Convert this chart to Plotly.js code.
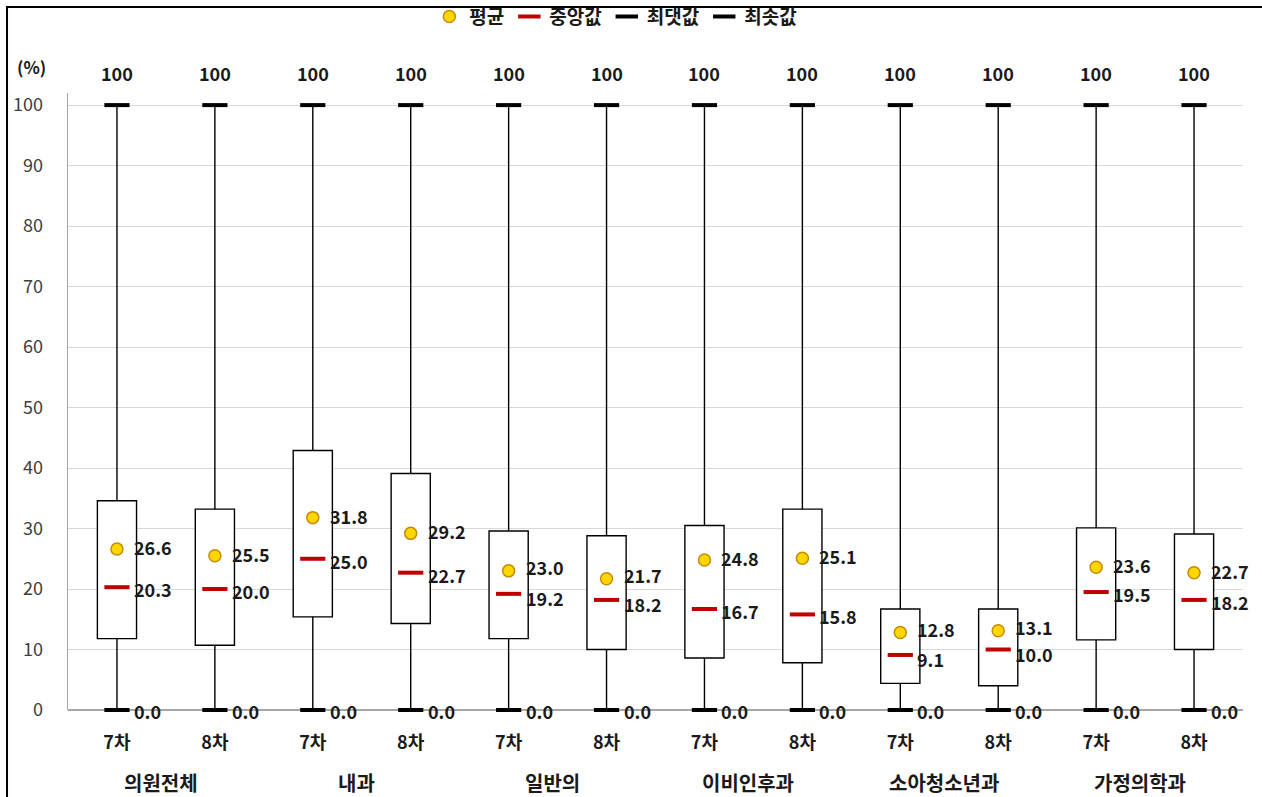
<!DOCTYPE html>
<html>
<head>
<meta charset="utf-8">
<script src="https://cdn.plot.ly/plotly-3.0.1.min.js"></script>
<style>
html,body{margin:0;padding:0;background:#fff;}
#chart{width:1262px;height:797px;}
</style>
</head>
<body>
<div id="chart"></div>
<script>
// ---- data ----
var groups = ['의원전체', '내과', '일반의', '이비인후과', '소아청소년과', '가정의학과'];
var rounds = ['7차', '8차', '7차', '8차', '7차', '8차', '7차', '8차', '7차', '8차', '7차', '8차'];
var maxV   = [100, 100, 100, 100, 100, 100, 100, 100, 100, 100, 100, 100];
var q3     = [34.6, 33.2, 42.9, 39.1, 29.6, 28.8, 30.5, 33.2, 16.7, 16.7, 30.1, 29.1];
var meanV  = [26.6, 25.5, 31.8, 29.2, 23.0, 21.7, 24.8, 25.1, 12.8, 13.1, 23.6, 22.7];
var medV   = [20.3, 20.0, 25.0, 22.7, 19.2, 18.2, 16.7, 15.8, 9.1, 10.0, 19.5, 18.2];
var q1     = [11.8, 10.7, 15.4, 14.3, 11.8, 10.0, 8.6, 7.8, 4.4, 4.0, 11.6, 10.0];
var minV   = [0, 0, 0, 0, 0, 0, 0, 0, 0, 0, 0, 0];

var FONT = 'Noto Sans CJK KR, Noto Sans, sans-serif';
var idx = rounds.map(function(_, i){ return i; });

// whiskers
var wx = [], wy = [];
idx.forEach(function(i){
  wx.push(i, i, null, i, i, null);
  wy.push(q3[i], maxV[i], null, minV[i], q1[i], null);
});

var traces = [
  { type:'scatter', mode:'lines', x:wx, y:wy, line:{color:'#000', width:1.4},
    showlegend:false, hoverinfo:'skip', cliponaxis:false },
  { type:'bar', x:idx, base:q1, y:idx.map(function(i){ return q3[i]-q1[i]; }),
    width:0.4, marker:{color:'#fff', line:{color:'#000', width:1.4}},
    showlegend:false, hoverinfo:'skip' },
  { type:'scatter', mode:'markers', name:'평균', x:idx, y:meanV, cliponaxis:false,
    marker:{symbol:'circle', size:12, color:'#FFD700', line:{color:'#C88A00', width:1.5}} },
  { type:'scatter', mode:'markers', name:'중앙값', x:idx, y:medV, cliponaxis:false,
    marker:{symbol:'line-ew', size:18, line:{color:'#C00000', width:4}} },
  { type:'scatter', mode:'markers', name:'최댓값', x:idx, y:maxV, cliponaxis:false,
    marker:{symbol:'line-ew', size:18, line:{color:'#000', width:4}} },
  { type:'scatter', mode:'markers', name:'최솟값', x:idx, y:minV, cliponaxis:false,
    marker:{symbol:'line-ew', size:18, line:{color:'#000', width:4}} }
];

var lblFont = {family:FONT, size:18, color:'#1a1a1a', weight:'bold'};
var ann = [];
idx.forEach(function(i){
  var extra = (meanV[i] - medV[i] < 4) ? 2 : 0;
  ann.push({x:i, y:meanV[i], text:meanV[i].toFixed(1), showarrow:false, xanchor:'left', yanchor:'middle', xshift:16, yshift:2 + extra, borderpad:0, font:lblFont});
  ann.push({x:i, y:medV[i], text:medV[i].toFixed(1), showarrow:false, xanchor:'left', yanchor:'middle', xshift:16, yshift:-2 - extra, borderpad:0, font:lblFont});
  ann.push({x:i, y:minV[i], text:minV[i].toFixed(1), showarrow:false, xanchor:'left', yanchor:'middle', xshift:16, yshift:-1, borderpad:0, font:lblFont});
  ann.push({x:i, y:maxV[i], text:String(maxV[i]), showarrow:false, xanchor:'center', yanchor:'middle', yshift:32, font:lblFont});
});
groups.forEach(function(g, k){
  ann.push({x:2*k+0.5, xref:'x', y:0, yref:'paper', text:g, showarrow:false, xanchor:'center', yanchor:'middle', yshift:-72, xshift:-5,
    font:{family:FONT, size:20, color:'#1a1a1a', weight:'bold'}});
});
ann.push({x:0, xref:'paper', y:1, yref:'paper', text:'(%)', showarrow:false, xanchor:'center', yanchor:'middle', xshift:-37, yshift:27,
  font:{family:FONT, size:17, color:'#1a1a1a', weight:'bold'}});

var layout = {
  width:1262, height:797,
  margin:{l:68, r:19, t:93, b:87},
  paper_bgcolor:'#fff', plot_bgcolor:'#fff',
  font:{family:FONT, color:'#333'},
  showlegend:true,
  legend:{orientation:'h', xref:'container', yref:'container', x:0.488, xanchor:'center', y:0.979, yanchor:'middle',
    font:{family:FONT, size:19, color:'#1a1a1a', weight:'bold'}, itemwidth:30, tracegroupgap:0, bgcolor:'rgba(0,0,0,0)'},
  xaxis:{range:[-0.5, 11.5], tickvals:idx, ticktext:rounds, showgrid:false, zeroline:false,
    showline:false, ticks:'', ticklabelstandoff:20,
    tickfont:{family:FONT, size:18, color:'#1a1a1a', weight:'bold'}, fixedrange:true},
  yaxis:{range:[0, 102], tickvals:[0,10,20,30,40,50,60,70,80,90,100], showgrid:true, gridcolor:'#D9D9D9', gridwidth:1,
    zeroline:true, zerolinecolor:'#A6A6A6', zerolinewidth:1.3, showline:true, linecolor:'#A6A6A6', linewidth:1.3,
    ticks:'', ticklabelstandoff:20, tickfont:{family:FONT, size:18, color:'#404040'}, fixedrange:true},
  annotations:ann,
  shapes:[{type:'rect', xref:'paper', yref:'paper', x0:-0.0519, x1:1.03, y0:-0.2, y1:1.1394,
    line:{color:'#000', width:2}, fillcolor:'rgba(0,0,0,0)', layer:'above'}]
};

Plotly.newPlot('chart', traces, layout, {displayModeBar:false, staticPlot:true});
</script>
</body>
</html>
